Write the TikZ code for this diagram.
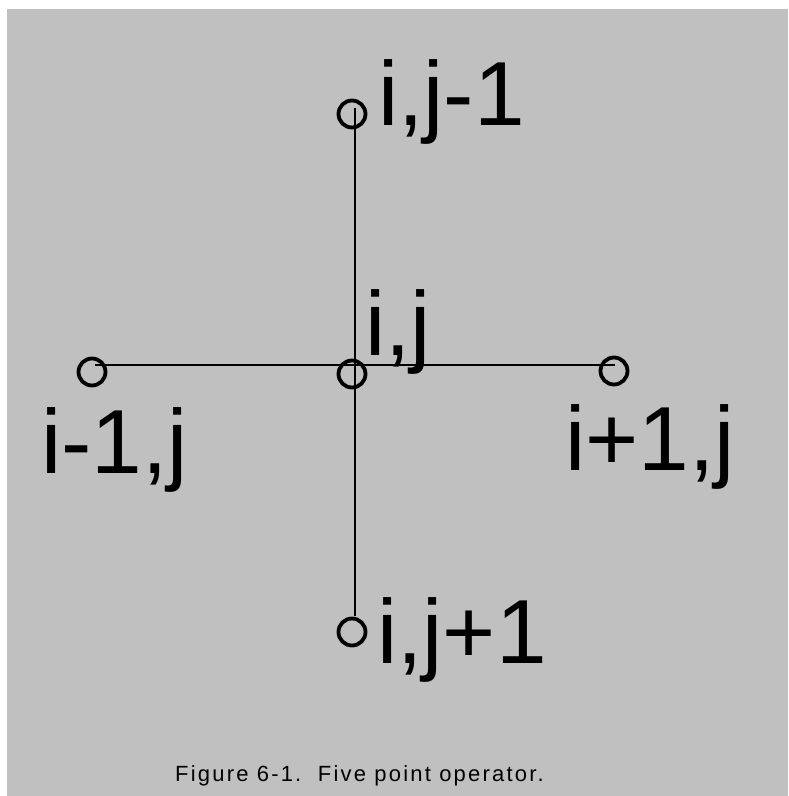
\documentclass[tikz,border=0pt]{standalone}
\usepackage{fontspec}
\setmainfont{Liberation Sans}
\newfontfamily\capfont[LetterSpace=10]{Liberation Sans}
\definecolor{bggray}{RGB}{192,192,192}
\begin{document}
\begin{tikzpicture}[x=1pt,y=-1pt,
  pt/.style={circle,draw=black,line width=3.8pt,minimum size=27pt,inner sep=0pt},
  lbl/.style={anchor=base west,inner sep=0pt,font=\fontsize{91}{110}\selectfont},
  captext/.style={anchor=base west,inner sep=0pt,font=\capfont\fontsize{22}{26}\selectfont},
  conn/.style={draw=black,line width=1.6pt}]
\useasboundingbox (0,0) rectangle (788,796);
\fill[bggray] (7,9) rectangle (788,796);
% line end points
\coordinate (hL) at (95,365);
\coordinate (hR) at (615,365);
\coordinate (vT) at (355,108);
\coordinate (vB) at (355,616);
\draw[conn] (hL) -- (hR);
\draw[conn] (vT) -- (vB);
% points
\node[pt] (top) at (352,114) {};
\node[pt] (mid) at (352,374) {};
\node[pt] (lft) at (92,372) {};
\node[pt] (rgt) at (614,371) {};
\node[pt] (bot) at (352,632) {};
% labels
\node[lbl] (ltop) at (378,125) {i,j-1};
\node[lbl] (lmid) at (365,355) {i,j};
\node[lbl] (llft) at (41,473) {i-1,j};
\node[lbl] (lrgt) at (565,470) {i+1,j};
\node[lbl] (lbot) at (377,663) {i,j+1};
\node[captext] (caption) at (175,781) {Figure 6-1.\ \ Five point operator.};
\end{tikzpicture}
\end{document}
